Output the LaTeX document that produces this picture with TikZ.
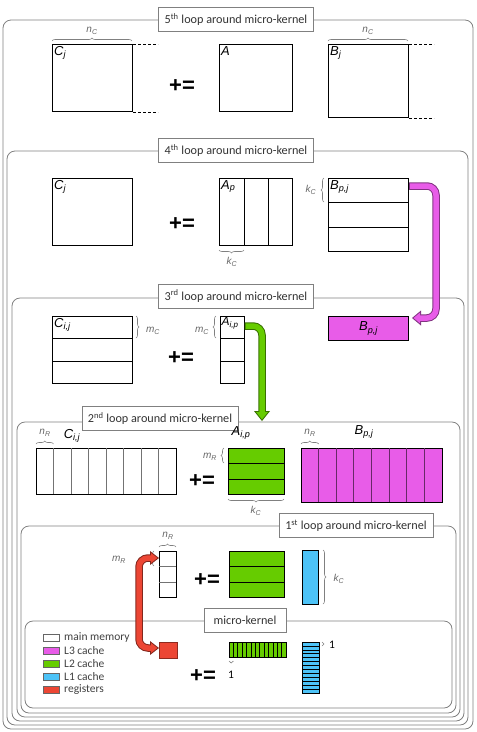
\documentclass[tikz,border=0pt]{standalone}
\usepackage{fontspec}
\setmainfont{Liberation Sans}
\newfontfamily\calibri{Carlito}
\usetikzlibrary{arrows.meta}
\usetikzlibrary{decorations.pathreplacing}

\definecolor{loopgray}{RGB}{128,128,128}
\definecolor{lthree}{RGB}{232,92,232}
\definecolor{ltwo}{RGB}{102,204,0}
\definecolor{lone}{RGB}{77,195,247}
\definecolor{regred}{RGB}{236,70,52}

\newcommand{\msub}[2]{#1\textsubscript{#2}}

\tikzset{
  loopbox/.style={draw=loopgray, line width=0.8pt, rounded corners=8pt},
  looptitle/.style={draw=loopgray, fill=white, line width=0.8pt, inner sep=0pt,
    font=\calibri\fontsize{12.2}{13}\selectfont, text=black!80, minimum height=24pt},
  blk/.style={draw, line width=1pt, anchor=north west, inner sep=0pt},
  lbl/.style={font=\itshape\fontsize{13}{13}\selectfont, anchor=north west, inner sep=2pt},
  dimlbl/.style={font=\itshape\fontsize{10}{10}\selectfont, text=black!60, inner sep=1pt},
  brc/.style={draw=black!50, line width=0.6pt, decorate, decoration={brace, amplitude=3pt}},
  pluseq/.style={font=\bfseries\fontsize{22}{22}\selectfont},
  edgedash/.style={dashed, dash pattern=on 3pt off 2pt, line width=0.8pt},
  legtxt/.style={font=\calibri\fontsize{11.5}{12}\selectfont, text=black!75, anchor=west, inner sep=0pt},
  fatout/.style={draw=#1!55!black, line width=7.5pt, rounded corners=9pt},
  fatin/.style={draw=#1, line width=5.5pt, rounded corners=9pt},
}

\begin{document}
\begin{tikzpicture}[x=1pt,y=-1pt]
  \useasboundingbox (0,0) rectangle (477,732);
  % loop frames
  \draw[loopbox] ( 3, 20) rectangle (473,729);
  \draw[loopbox] ( 7,151) rectangle (468,725);
  \draw[loopbox] (12,298) rectangle (464,721);
  \draw[loopbox] (17,422) rectangle (460,717);
  \draw[loopbox] (21,526) rectangle (456,713);
  \draw[loopbox] (25,621) rectangle (452,708);
  \node[looptitle, minimum width=155pt] (t5) at (236,19.5) {5\textsuperscript{th} loop around micro-kernel};
  \node[looptitle, minimum width=155pt] (t4) at (236,150.5) {4\textsuperscript{th} loop around micro-kernel};
  \node[looptitle, minimum width=155pt] (t3) at (236,296) {3\textsuperscript{rd} loop around micro-kernel};
  \node[looptitle, minimum width=156pt] (t2) at (160,418.5) {2\textsuperscript{nd} loop around micro-kernel};
  \node[looptitle, minimum width=154pt] (t1) at (356,525.5) {1\textsuperscript{st} loop around micro-kernel};
  \node[looptitle, minimum width=82pt] (tmk) at (245,620) {micro-kernel};
  %
  % 5th loop
  \node[blk, minimum width=80pt, minimum height=67pt] (C5) at (52,44) {};
  \node[lbl] at (C5.north west) {\msub{C}{j}};
  \draw[edgedash] (C5.north east) -- ++(25,0);
  \draw[edgedash] (C5.south east) -- ++(25,0);
  \draw[brc] (52,41) -- (132,41);
  \node[dimlbl] at (92,31) {\msub{n}{C}};
  \node[pluseq] (pe5) at (182,86) {+=};
  \node[blk, minimum width=73pt, minimum height=67pt] (A5) at (219,44) {};
  \node[lbl] at (A5.north west) {A};
  \node[blk, minimum width=80pt, minimum height=73pt] (B5) at (328,44) {};
  \node[lbl] at (B5.north west) {\msub{B}{j}};
  \draw[edgedash] (B5.north east) -- ++(25,0);
  \draw[edgedash] (B5.south east) -- ++(25,0);
  \draw[brc] (328,41) -- (408,41);
  \node[dimlbl] at (368,31) {\msub{n}{C}};
  %
  % 4th loop
  \node[blk, minimum width=80pt, minimum height=67pt] (C4) at (52,178) {};
  \node[lbl] at (C4.north west) {\msub{C}{j}};
  \node[pluseq] (pe4) at (182,224) {+=};
  \node[blk, minimum width=73pt, minimum height=67pt] (A4) at (219,178) {};
  \draw[line width=1pt] (244,178) -- (244,245) (268,178) -- (268,245);
  \node[lbl] at (A4.north west) {\msub{A}{p}};
  \draw[brc] (244,250) -- (219,250);
  \node[dimlbl] at (232,262) {\msub{k}{C}};
  \node[blk, minimum width=80pt, minimum height=73pt] (B4) at (328,178) {};
  \draw[line width=1pt] (328,202) -- (408,202) (328,227) -- (408,227);
  \node[lbl] at (B4.north west) {\msub{B}{p,j}};
  \draw[brc] (324,202) -- (324,178);
  \node[dimlbl] at (311,190) {\msub{k}{C}};
  %
  % 3rd loop
  \node[blk, minimum width=80pt, minimum height=67pt] (C3) at (52,316) {};
  \draw[line width=1pt] (52,338) -- (132,338) (52,361) -- (132,361);
  \node[lbl] at (C3.north west) {\msub{C}{i,j}};
  \draw[brc] (136,316) -- (136,338);
  \node[dimlbl] at (153,331) {\msub{m}{C}};
  \node[pluseq] (pe3) at (181,358) {+=};
  \node[blk, minimum width=24pt, minimum height=67pt] (A3) at (220,316) {};
  \draw[line width=1pt] (220,338) -- (244,338) (220,361) -- (244,361);
  \node[lbl, font=\itshape\fontsize{12}{12}\selectfont, inner sep=1.5pt] at (A3.north west) {\msub{A}{i,p}};
  \draw[brc] (216,338) -- (216,316);
  \node[dimlbl] at (202,331) {\msub{m}{C}};
  \node[blk, fill=lthree, minimum width=80pt, minimum height=24pt] (B3) at (328,316) {};
  \node[font=\itshape\fontsize{13}{13}\selectfont] at (B3.center) {\msub{B}{p,j}};
  %
  % 2nd loop
  \node[blk, minimum width=140pt, minimum height=46pt] (C2) at (36,448) {};
  \foreach \i in {1,...,7}
    \draw[black!55, line width=0.7pt] ({36+\i*17.5},448) -- ++(0,46);
  \draw[brc] (36,444) -- (53.5,444);
  \node[dimlbl] at (45,433) {\msub{n}{R}};
  \node[font=\itshape\fontsize{13}{13}\selectfont] at (72,436) {\msub{C}{i,j}};
  \node[pluseq] (pe2) at (202,481) {+=};
  \node[blk, fill=ltwo, minimum width=56pt, minimum height=46pt] (A2) at (228,448) {};
  \draw[line width=1pt] (228,463) -- (284,463) (228,479) -- (284,479);
  \node[font=\itshape\fontsize{13}{13}\selectfont] at (241,433) {\msub{A}{i,p}};
  \draw[brc] (224,463) -- (224,448);
  \node[dimlbl] at (210,457) {\msub{m}{R}};
  \draw[brc] (284,499) -- (228,499);
  \node[dimlbl] at (256,511) {\msub{k}{C}};
  \node[blk, fill=lthree, minimum width=141pt, minimum height=54pt] (B2) at (301,448) {};
  \foreach \i in {1,...,7}
    \draw[lthree!45!black, line width=0.8pt] ({301+\i*17.625},448) -- ++(0,54);
  \draw[brc] (301,444) -- (318.6,444);
  \node[dimlbl] at (310,433) {\msub{n}{R}};
  \node[font=\itshape\fontsize{13}{13}\selectfont] at (364,432) {\msub{B}{p,j}};
  %
  % 1st loop
  \node[blk, minimum width=17pt, minimum height=46pt] (C1) at (159,551) {};
  \draw[black!55, line width=0.7pt] (159,566) -- (176,566) (159,582) -- (176,582);
  \draw[brc] (159,547) -- (176,547);
  \node[dimlbl] at (168,536) {\msub{n}{R}};
  \draw[brc] (154,566) -- (154,551);
  \node[dimlbl] at (119,560) {\msub{m}{R}};
  \node[pluseq] (pe1) at (207,580) {+=};
  \node[blk, fill=ltwo, minimum width=55pt, minimum height=46pt] (A1) at (229,551) {};
  \draw[line width=1pt] (229,566) -- (284,566) (229,582) -- (284,582);
  \node[blk, fill=lone, minimum width=16pt, minimum height=54pt] (B1) at (302,550) {};
  \draw[brc] (323,550) -- (323,604);
  \node[dimlbl] at (339,579) {\msub{k}{C}};
  %
  % micro-kernel
  \foreach \c/\t/\y in {white/main memory/637.5, lthree/L3 cache/650.5, ltwo/L2 cache/663.5, lone/L1 cache/677, regred/registers/689.5} {
    \draw[fill=\c, draw=black!60, line width=0.7pt] (43,\y-3.5) rectangle (59,\y+3.5);
    \node[legtxt] at (64,\y) {\t};
  }
  \node[blk, fill=regred, draw=regred!60!black, minimum width=18pt, minimum height=16pt] (R0) at (159,642) {};
  \node[blk, fill=ltwo, minimum width=57pt, minimum height=15pt] (A0) at (229,642) {};
  \foreach \i in {1,...,12}
    \draw[line width=0.6pt] ({229+\i*57/13},642) -- ++(0,15);
  \draw[brc, decoration={brace, amplitude=2pt}] (233.4,661) -- (229,661);
  \node[font=\calibri\fontsize{11.5}{12}\selectfont] at (231,675) {1};
  \node[pluseq] (pe0) at (203,676) {+=};
  \node[blk, fill=lone, minimum width=17pt, minimum height=51pt] (B0) at (302,642) {};
  \foreach \i in {1,...,12}
    \draw[line width=0.6pt] (302,{642+\i*51/13}) -- ++(17,0);
  \draw[brc, decoration={brace, amplitude=2pt}] (322,642) -- (322,646);
  \node[font=\calibri\fontsize{11.5}{12}\selectfont] at (332,645) {1};
  %
  % data movement arrows
  \coordinate (mgs) at (409,186);
  \coordinate (mge) at (412,318);
  \draw[fatout=lthree, -{Triangle[length=9pt,width=15pt,line width=0pt]}] (mgs) -- (436,186) -- (436,318) -- (mge);
  \draw[fatin=lthree, shorten <=1pt, shorten >=1.6pt, -{Triangle[length=6.4pt,width=10.7pt,line width=0pt]}] (mgs) -- (436,186) -- (436,318) -- (mge);
  \coordinate (gns) at (244.5,326);
  \coordinate (gne) at (262,421);
  \draw[fatout=ltwo, -{Triangle[length=10pt,width=16pt,line width=0pt]}] (gns) -- (262,326) -- (gne);
  \draw[fatin=ltwo, shorten <=1pt, shorten >=1.6pt, -{Triangle[length=7.4pt,width=11.8pt,line width=0pt]}] (gns) -- (262,326) -- (gne);
  \coordinate (rda) at (159,558);
  \coordinate (rdb) at (159,648);
  \draw[fatout=regred, {Triangle[length=9pt,width=14pt,line width=0pt]}-{Triangle[length=9pt,width=14pt,line width=0pt]}] (rda) -- (139,558) -- (139,648) -- (rdb);
  \draw[fatin=regred, shorten <=1.6pt, shorten >=1.6pt, {Triangle[length=6.4pt,width=10pt,line width=0pt]}-{Triangle[length=6.4pt,width=10pt,line width=0pt]}] (rda) -- (139,558) -- (139,648) -- (rdb);
\end{tikzpicture}
\end{document}
